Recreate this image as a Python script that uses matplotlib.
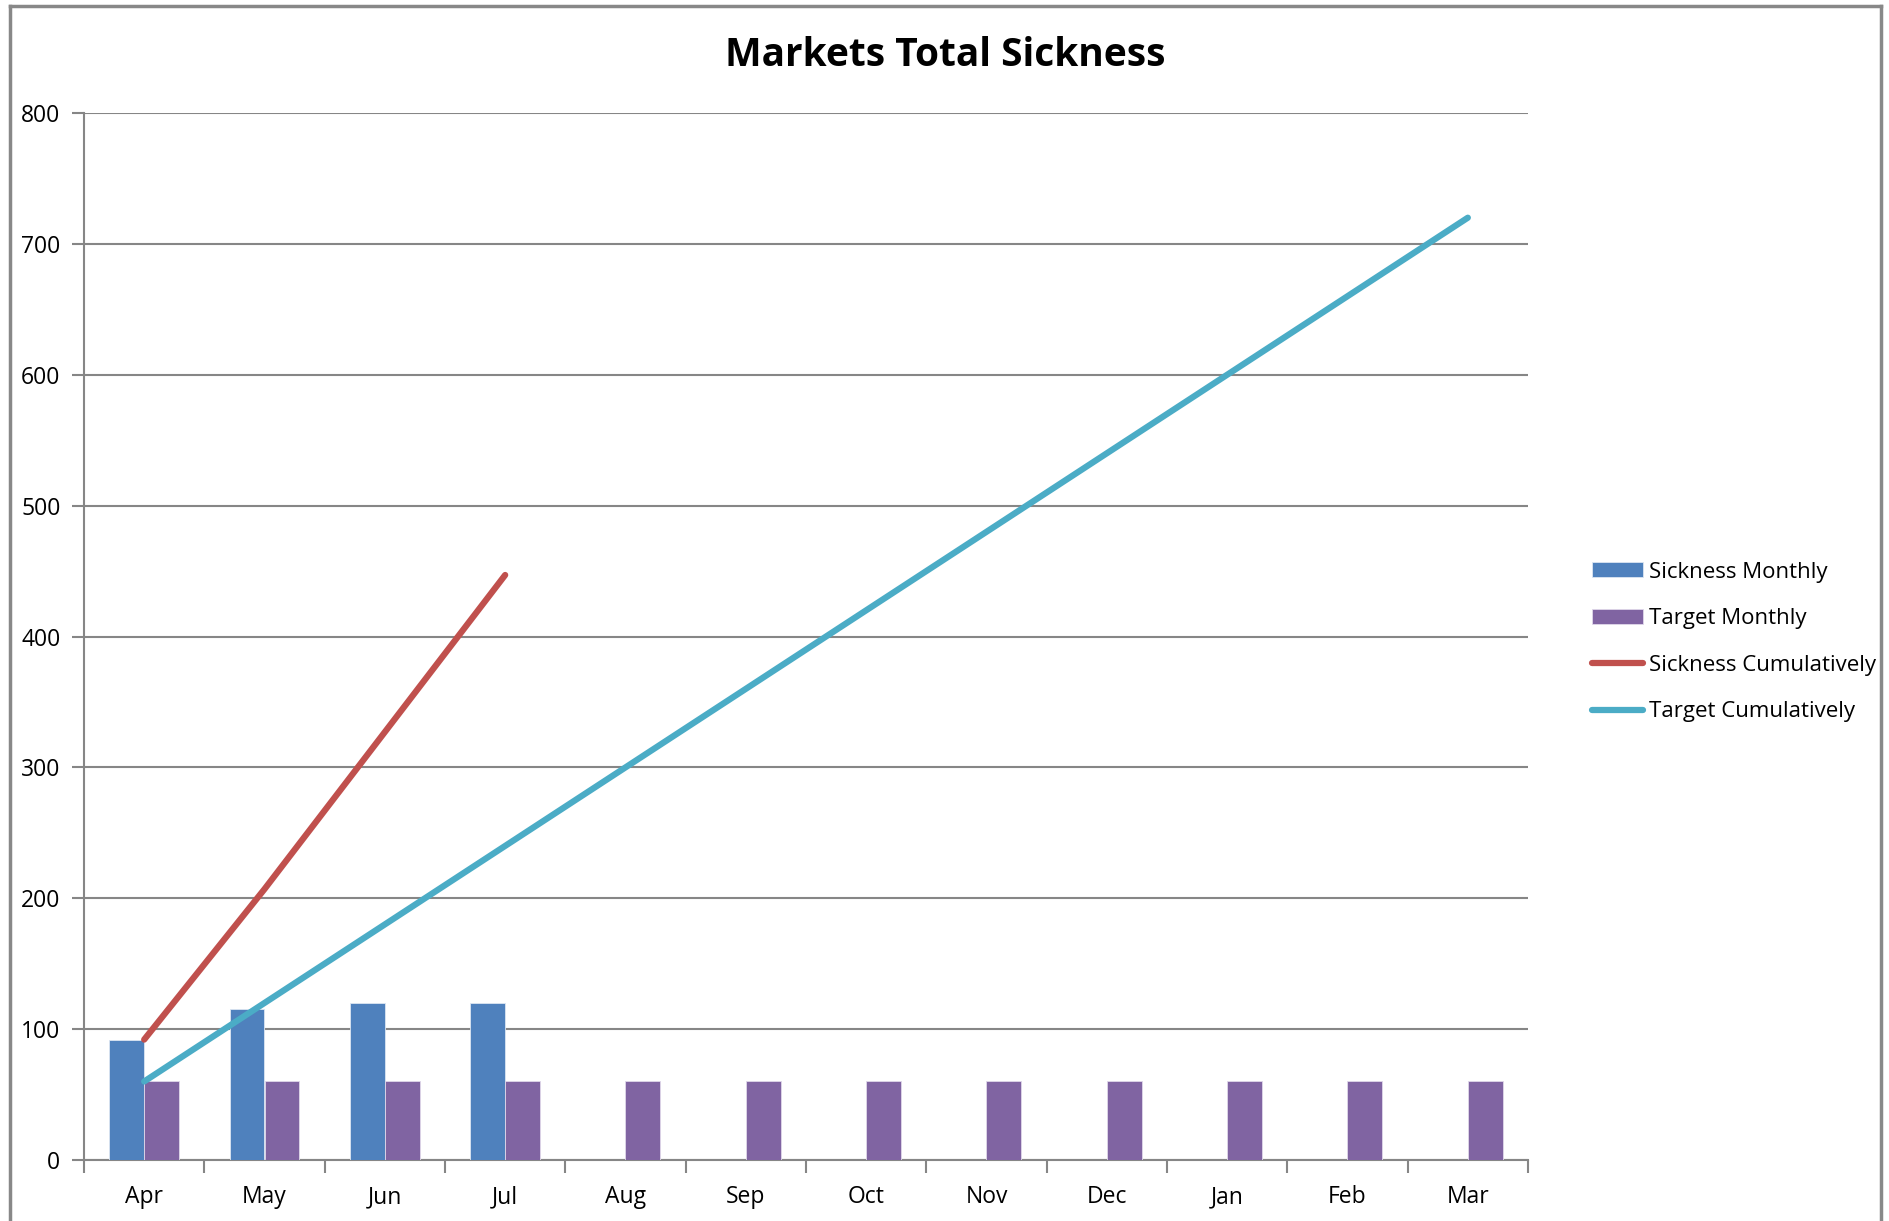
import numpy as np
import matplotlib.pyplot as plt
from matplotlib.lines import Line2D

months = ['Apr', 'May', 'Jun', 'Jul', 'Aug', 'Sep', 'Oct', 'Nov', 'Dec', 'Jan', 'Feb', 'Mar']
sickness_monthly = [92, 115, 120, 120]
target_monthly = [60] * 12
sickness_cumulative = [92, 207, 327, 447]
target_cumulative = [60, 120, 180, 240, 300, 360, 420, 480, 540, 600, 660, 720]

plt.rcParams['font.family'] = ['Open Sans', 'DejaVu Sans']

grey = '#868686'
fig = plt.figure(figsize=(18.9, 12.21), dpi=100)
ax = fig.add_axes([84 / 1890, 1 - 1160 / 1221, (1528 - 84) / 1890, (1160 - 113) / 1221])

x = np.arange(len(months))
w = 0.29
b1 = ax.bar(x[:len(sickness_monthly)] - w / 2, sickness_monthly, w, color='#4f81bd',
            edgecolor='#dce6f2', linewidth=0.6, label='Sickness Monthly', zorder=3)
b2 = ax.bar(x + w / 2, target_monthly, w, color='#8064a2',
            edgecolor='#e0d8ea', linewidth=0.6, label='Target Monthly', zorder=3)
l1, = ax.plot(x[:len(sickness_cumulative)], sickness_cumulative, color='#c0504d', lw=4.5,
              solid_capstyle='round', label='Sickness Cumulatively', zorder=4)
l2, = ax.plot(x, target_cumulative, color='#4bacc6', lw=4.5,
              solid_capstyle='round', label='Target Cumulatively', zorder=4)

ax.set_xlim(-0.5, 11.5)
ax.set_ylim(0, 800)
ax.set_yticks(range(0, 801, 100))
ax.yaxis.grid(True, color=grey, lw=1.5, zorder=0)
ax.set_xticks(x)
ax.set_xticklabels(months)
ax.set_xticks(np.arange(-0.5, 12, 1), minor=True)
ax.tick_params(axis='x', which='major', length=0, pad=18, labelsize=16.5)
ax.tick_params(axis='x', which='minor', length=9, width=1.5, color=grey, direction='out')
ax.tick_params(axis='y', length=9, width=1.5, color=grey, direction='out', pad=8, labelsize=16.5)
for s in ['top', 'right']:
    ax.spines[s].set_visible(False)
for s in ['left', 'bottom']:
    ax.spines[s].set_color(grey)
    ax.spines[s].set_linewidth(1.5)

fig.text(0.5, 1 - 55 / 1221, 'Markets Total Sickness', ha='center', va='center',
         fontsize=28, fontweight='bold')

fig.legend([b1, b2, l1, l2],
           ['Sickness Monthly', 'Target Monthly', 'Sickness Cumulatively', 'Target Cumulatively'],
           loc='center left', bbox_to_anchor=(1592 / 1890, 1 - 642 / 1221),
           frameon=False, fontsize=16, handlelength=2.3, handleheight=0.65,
           handletextpad=0.25, labelspacing=1.15, borderaxespad=0, borderpad=0)

# outer chart frame
fig.add_artist(Line2D([10 / 1890, 10 / 1890], [0, 1 - 6 / 1221], color='#888888', lw=2.5))
fig.add_artist(Line2D([10 / 1890, 1881 / 1890], [1 - 6 / 1221, 1 - 6 / 1221], color='#888888', lw=2.5))
fig.add_artist(Line2D([1881 / 1890, 1881 / 1890], [0, 1 - 6 / 1221], color='#888888', lw=2.5))

plt.savefig('out.png')
